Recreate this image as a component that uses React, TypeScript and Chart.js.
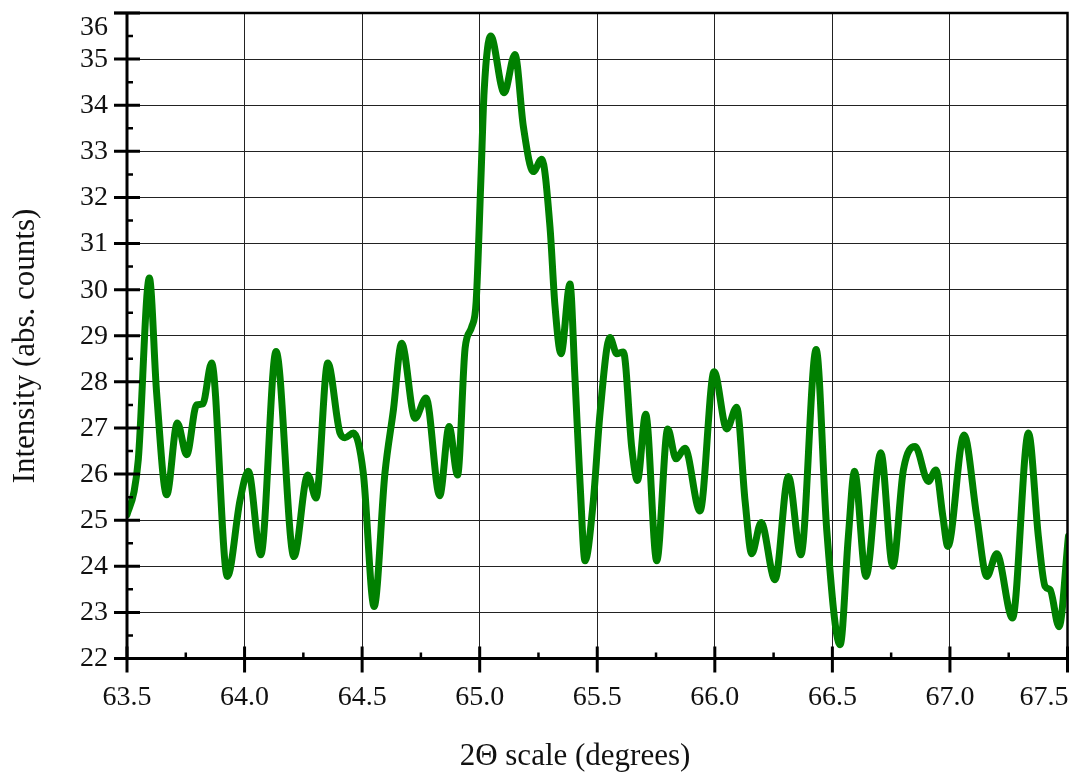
import { useEffect, useRef } from 'react';
import { Chart, registerables } from 'chart.js';

Chart.register(...registerables);

// Diffraction scan: 2Θ positions (degrees) and measured intensity (abs. counts)
const twoTheta = [
  63.5, 63.53, 63.548, 63.595, 63.626, 63.669, 63.714, 63.754, 63.796, 63.822,
  63.86, 63.927, 63.981, 64.016, 64.069, 64.134, 64.21, 64.269, 64.304, 64.354,
  64.406, 64.427, 64.463, 64.505, 64.551, 64.597, 64.633, 64.668, 64.725, 64.772,
  64.83, 64.87, 64.906, 64.938, 64.966, 64.985, 65.005, 65.019, 65.047, 65.104,
  65.15, 65.186, 65.228, 65.264, 65.299, 65.32, 65.346, 65.384, 65.405, 65.427,
  65.448, 65.483, 65.512, 65.554, 65.583, 65.611, 65.647, 65.671, 65.706, 65.753,
  65.8, 65.835, 65.873, 65.937, 65.997, 66.051, 66.093, 66.129, 66.157, 66.197,
  66.256, 66.313, 66.366, 66.431, 66.476, 66.533, 66.568, 66.594, 66.643, 66.706,
  66.757, 66.802, 66.852, 66.908, 66.94, 66.97, 66.991, 67.06, 67.114, 67.157,
  67.199, 67.266, 67.334, 67.376, 67.405, 67.426, 67.464, 67.504,
];

const intensity = [
  25.12, 25.62, 26.31, 30.25, 27.76, 25.55, 27.11, 26.42, 27.5, 27.52,
  28.41, 23.78, 25.44, 26.06, 24.25, 28.66, 24.21, 25.98, 25.48, 28.41,
  26.89, 26.79, 26.89, 26.02, 23.13, 26.02, 27.39, 28.84, 27.21, 27.65,
  25.53, 27.03, 25.98, 28.73, 29.19, 29.74, 32.37, 34.31, 35.5, 34.27,
  35.1, 33.53, 32.56, 32.83, 31.36, 29.66, 28.61, 30.12, 28.11, 25.79,
  24.12, 25.4, 27.33, 28.96, 28.61, 28.65, 26.56, 25.86, 27.3, 24.12,
  26.98, 26.33, 26.56, 25.2, 28.22, 26.98, 27.45, 25.4, 24.27, 24.95,
  23.71, 25.95, 24.25, 28.7, 24.79, 22.3, 24.65, 26.06, 23.78, 26.46,
  24.0, 26.09, 26.6, 25.84, 26.09, 25.08, 24.43, 26.85, 25.08, 23.78,
  24.27, 22.88, 26.89, 24.65, 23.56, 23.49, 22.69, 24.65,
];

// Axis ticks
const xMajorTicks = [63.5, 64.0, 64.5, 65.0, 65.5, 66.0, 66.5, 67.0, 67.5];
const xMinorTicks = [63.75, 64.25, 64.75, 65.25, 65.75, 66.25, 66.75, 67.25];
const yMajorTicks = [22, 23, 24, 25, 26, 27, 28, 29, 30, 31, 32, 33, 34, 35, 36];
const yMinorTicks = [22.5, 23.5, 24.5, 25.5, 26.5, 27.5, 28.5, 29.5, 30.5, 31.5, 32.5, 33.5, 34.5, 35.5];

const xTitle = '2\u0398 scale (degrees)';
const yTitle = 'Intensity (abs. counts)';

const W = 1073;
const H = 775;
const FONT = "'Liberation Serif', 'Times New Roman', serif";

// Draws the framed axes, inward/outward tick marks, tick labels and axis titles
const axisDecor = {
  id: 'axisDecor',
  afterDraw(chart: any) {
    const { ctx, chartArea: a, scales } = chart;
    const sx = scales.x;
    const sy = scales.y;
    ctx.save();
    ctx.strokeStyle = '#000';
    ctx.lineCap = 'butt';

    // top and right frame
    ctx.lineWidth = 2.5;
    ctx.beginPath();
    ctx.moveTo(a.left - 13, a.top);
    ctx.lineTo(a.right, a.top);
    ctx.lineTo(a.right, a.bottom);
    ctx.stroke();

    // axis lines
    ctx.lineWidth = 3;
    ctx.beginPath();
    ctx.moveTo(a.left, a.top);
    ctx.lineTo(a.left, a.bottom + 1.5);
    ctx.moveTo(a.left - 1.5, a.bottom);
    ctx.lineTo(a.right + 1, a.bottom);
    ctx.stroke();

    // x ticks
    ctx.lineWidth = 3;
    ctx.beginPath();
    xMajorTicks.forEach((v) => {
      const px = sx.getPixelForValue(v);
      ctx.moveTo(px, a.bottom - 12);
      ctx.lineTo(px, a.bottom + 14);
    });
    ctx.stroke();
    ctx.lineWidth = 2.5;
    ctx.beginPath();
    xMinorTicks.forEach((v) => {
      const px = sx.getPixelForValue(v);
      ctx.moveTo(px, a.bottom - 6);
      ctx.lineTo(px, a.bottom);
    });
    ctx.stroke();

    // y ticks
    ctx.lineWidth = 3;
    ctx.beginPath();
    yMajorTicks.forEach((v) => {
      const py = sy.getPixelForValue(v);
      ctx.moveTo(a.left - 13, py);
      ctx.lineTo(a.left + 13, py);
    });
    ctx.stroke();
    ctx.lineWidth = 2.5;
    ctx.beginPath();
    yMinorTicks.forEach((v) => {
      const py = sy.getPixelForValue(v);
      ctx.moveTo(a.left, py);
      ctx.lineTo(a.left + 6, py);
    });
    ctx.stroke();

    // tick labels
    ctx.fillStyle = '#111';
    ctx.font = `28px ${FONT}`;
    ctx.textBaseline = 'middle';
    xMajorTicks.forEach((v) => {
      const label = v.toFixed(1);
      const px = sx.getPixelForValue(v);
      const w = ctx.measureText(label).width;
      if (px + w / 2 > a.right) {
        ctx.textAlign = 'right';
        ctx.fillText(label, a.right + 1, a.bottom + 39);
      } else {
        ctx.textAlign = 'center';
        ctx.fillText(label, px, a.bottom + 39);
      }
    });
    ctx.textAlign = 'right';
    yMajorTicks.forEach((v) => {
      const py = Math.max(sy.getPixelForValue(v), a.top + 14.5);
      ctx.fillText(String(v), a.left - 19, py + 0.5);
    });

    // axis titles
    ctx.font = `31px ${FONT}`;
    ctx.textBaseline = 'alphabetic';
    ctx.textAlign = 'center';
    ctx.fillText(xTitle, 575, 765);
    ctx.save();
    ctx.translate(34, 346);
    ctx.rotate(-Math.PI / 2);
    ctx.fillText(yTitle, 0, 0);
    ctx.restore();

    ctx.restore();
  },
};

export default function App() {
  const canvasRef = useRef<HTMLCanvasElement | null>(null);

  useEffect(() => {
    const canvas = canvasRef.current;
    if (!canvas) return;
    const points = twoTheta.map((x, i) => ({ x, y: intensity[i] }));
    const chart = new Chart(canvas, {
      type: 'line',
      data: {
        datasets: [
          {
            data: points,
            borderColor: '#008000',
            borderWidth: 7,
            pointRadius: 0,
            fill: false,
            cubicInterpolationMode: 'monotone',
            borderJoinStyle: 'round',
            borderCapStyle: 'round',
          },
        ],
      },
      options: {
        responsive: false,
        animation: false,
        events: [],
        layout: { padding: { top: 13, right: 5.5, left: 0, bottom: 0 } },
        plugins: {
          legend: { display: false },
          tooltip: { enabled: false },
          title: { display: false },
        },
        scales: {
          x: {
            type: 'linear',
            min: 63.5,
            max: 67.5,
            ticks: { stepSize: 0.5, display: false },
            grid: { color: '#222', lineWidth: 1, drawTicks: false },
            border: { display: false },
            afterFit: (scale: any) => {
              scale.height = H - 658.5;
            },
          },
          y: {
            type: 'linear',
            min: 22,
            max: 36,
            ticks: { stepSize: 1, display: false },
            grid: { color: '#222', lineWidth: 1, drawTicks: false },
            border: { display: false },
            afterFit: (scale: any) => {
              scale.width = 127;
            },
          },
        },
      },
      plugins: [axisDecor],
    });
    return () => chart.destroy();
  }, []);

  return (
    <div style={{ position: 'fixed', left: 0, top: 0, width: W, height: H, background: '#fff' }}>
      <canvas ref={canvasRef} width={W} height={H} style={{ display: 'block', width: W, height: H }} />
    </div>
  );
}
